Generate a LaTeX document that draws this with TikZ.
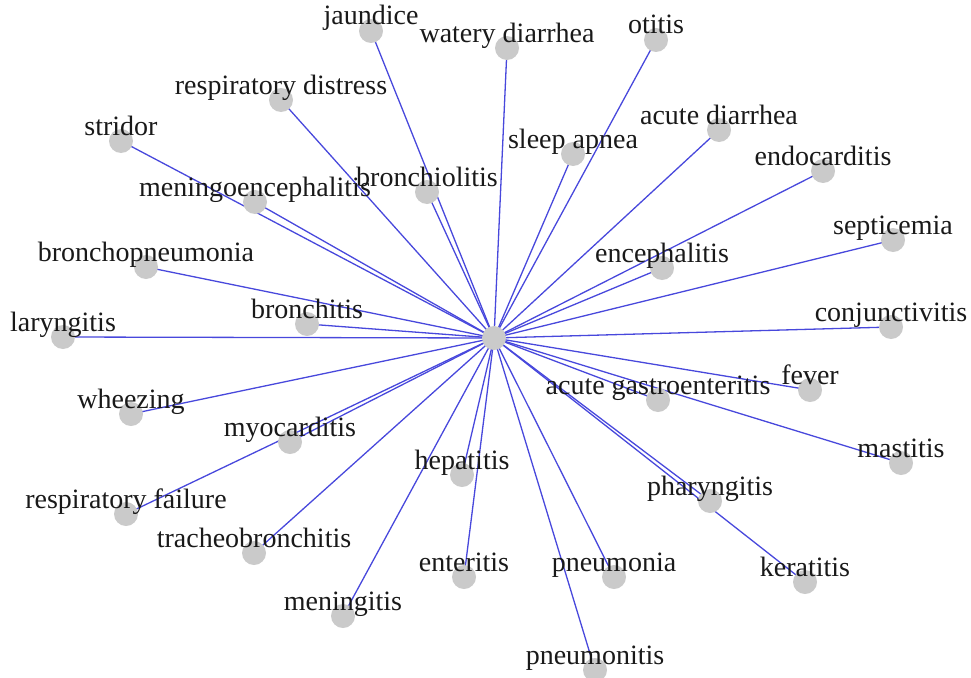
\documentclass[tikz,border=0pt]{standalone}
\usepackage{fontspec}
\setmainfont{Liberation Serif}
\usepackage{xcolor}
\usepackage{tikz}
\usetikzlibrary{backgrounds, calc}
\definecolor{edgeblue}{HTML}{4848DC}
\definecolor{vertexgray}{HTML}{CACACA}

\begin{document}
\begin{tikzpicture}[
    x=1pt, y=-1pt,
    vertex/.style={circle, fill=vertexgray, minimum size=24pt, inner sep=0pt},
    lbl/.style={anchor=base, inner sep=0pt, font=\fontsize{28}{30}\selectfont, text=black!90},
    edge/.style={edgeblue, line width=1.3pt}
]
\useasboundingbox (0,0) rectangle (971,677);

% hub
\node[vertex] at (494,338) (hub) {};

% upper half
\node[vertex] at (371,31) (jaundice) {};
\node[vertex] at (507,48) (watery-diarrhea) {};
\node[vertex] at (656,40) (otitis) {};
\node[vertex] at (281,100) (resp-distress) {};
\node[vertex] at (121,141) (stridor) {};
\node[vertex] at (719,130) (acute-diarrhea) {};
\node[vertex] at (573,154) (sleep-apnea) {};
\node[vertex] at (823,171) (endocarditis) {};
\node[vertex] at (427,192) (bronchiolitis) {};
\node[vertex] at (255,202) (meningoenc) {};
\node[vertex] at (893,240) (septicemia) {};
\node[vertex] at (146,267) (bronchopneumonia) {};
\node[vertex] at (662,268) (encephalitis) {};
\node[vertex] at (307,324) (bronchitis) {};
\node[vertex] at (891,327) (conjunctivitis) {};
\node[vertex] at (63,337) (laryngitis) {};

% lower half
\node[vertex] at (810,390) (fever) {};
\node[vertex] at (658,400) (acute-gastro) {};
\node[vertex] at (131,414) (wheezing) {};
\node[vertex] at (290,442) (myocarditis) {};
\node[vertex] at (901,463) (mastitis) {};
\node[vertex] at (462,475) (hepatitis) {};
\node[vertex] at (710,501) (pharyngitis) {};
\node[vertex] at (126,514) (resp-failure) {};
\node[vertex] at (254,553) (tracheobronchitis) {};
\node[vertex] at (464,577) (enteritis) {};
\node[vertex] at (614,577) (pneumonia) {};
\node[vertex] at (805,582) (keratitis) {};
\node[vertex] at (343,616) (meningitis) {};
\node[vertex] at (595,670) (pneumonitis) {};

% edges, behind the vertices
\begin{scope}[on background layer]
\draw[edge] (hub.center) -- (jaundice.center);
\draw[edge] (hub.center) -- (watery-diarrhea.center);
\draw[edge] (hub.center) -- (otitis.center);
\draw[edge] (hub.center) -- (resp-distress.center);
\draw[edge] (hub.center) -- (stridor.center);
\draw[edge] (hub.center) -- (acute-diarrhea.center);
\draw[edge] (hub.center) -- (sleep-apnea.center);
\draw[edge] (hub.center) -- (endocarditis.center);
\draw[edge] (hub.center) -- (bronchiolitis.center);
\draw[edge] (hub.center) -- (meningoenc.center);
\draw[edge] (hub.center) -- (septicemia.center);
\draw[edge] (hub.center) -- (bronchopneumonia.center);
\draw[edge] (hub.center) -- (encephalitis.center);
\draw[edge] (hub.center) -- (bronchitis.center);
\draw[edge] (hub.center) -- (conjunctivitis.center);
\draw[edge] (hub.center) -- (laryngitis.center);
\draw[edge] (hub.center) -- (fever.center);
\draw[edge] (hub.center) -- (acute-gastro.center);
\draw[edge] (hub.center) -- (wheezing.center);
\draw[edge] (hub.center) -- (myocarditis.center);
\draw[edge] (hub.center) -- (mastitis.center);
\draw[edge] (hub.center) -- (hepatitis.center);
\draw[edge] (hub.center) -- (pharyngitis.center);
\draw[edge] (hub.center) -- (resp-failure.center);
\draw[edge] (hub.center) -- (tracheobronchitis.center);
\draw[edge] (hub.center) -- (enteritis.center);
\draw[edge] (hub.center) -- (pneumonia.center);
\draw[edge] (hub.center) -- (keratitis.center);
\draw[edge] (hub.center) -- (meningitis.center);
\draw[edge] (hub.center) -- (pneumonitis.center);
\end{scope}

% labels, just above each vertex
\node[lbl] at ([yshift=6pt]jaundice.center) (l-jaundice) {jaundice};
\node[lbl] at ([yshift=6pt]watery-diarrhea.center) (l-watery) {watery diarrhea};
\node[lbl] at ([yshift=6pt]otitis.center) (l-otitis) {otitis};
\node[lbl] at ([yshift=6pt]resp-distress.center) (l-rdist) {respiratory distress};
\node[lbl] at ([yshift=6pt]stridor.center) (l-stridor) {stridor};
\node[lbl] at ([yshift=6pt]acute-diarrhea.center) (l-adiarrhea) {acute diarrhea};
\node[lbl] at ([yshift=6pt]sleep-apnea.center) (l-apnea) {sleep apnea};
\node[lbl] at ([yshift=6pt]endocarditis.center) (l-endo) {endocarditis};
\node[lbl] at ([yshift=6pt]bronchiolitis.center) (l-bronchiol) {bronchiolitis};
\node[lbl] at ([yshift=6pt]meningoenc.center) (l-meningoenc) {meningoencephalitis};
\node[lbl] at ([yshift=6pt]septicemia.center) (l-septic) {septicemia};
\node[lbl] at ([yshift=6pt]bronchopneumonia.center) (l-bpneu) {bronchopneumonia};
\node[lbl] at ([yshift=6pt]encephalitis.center) (l-enceph) {encephalitis};
\node[lbl] at ([yshift=6pt]bronchitis.center) (l-bronchitis) {bronchitis};
\node[lbl] at ([yshift=6pt]conjunctivitis.center) (l-conj) {conjunctivitis};
\node[lbl] at ([yshift=6pt]laryngitis.center) (l-laryng) {laryngitis};
\node[lbl] at ([yshift=6pt]fever.center) (l-fever) {fever};
\node[lbl] at ([yshift=6pt]acute-gastro.center) (l-agastro) {acute gastroenteritis};
\node[lbl] at ([yshift=6pt]wheezing.center) (l-wheez) {wheezing};
\node[lbl] at ([yshift=6pt]myocarditis.center) (l-myo) {myocarditis};
\node[lbl] at ([yshift=6pt]mastitis.center) (l-mast) {mastitis};
\node[lbl] at ([yshift=6pt]hepatitis.center) (l-hep) {hepatitis};
\node[lbl] at ([yshift=6pt]pharyngitis.center) (l-pharyng) {pharyngitis};
\node[lbl] at ([yshift=6pt]resp-failure.center) (l-rfail) {respiratory failure};
\node[lbl] at ([yshift=6pt]tracheobronchitis.center) (l-tracheo) {tracheobronchitis};
\node[lbl] at ([yshift=6pt]enteritis.center) (l-enter) {enteritis};
\node[lbl] at ([yshift=6pt]pneumonia.center) (l-pneumonia) {pneumonia};
\node[lbl] at ([yshift=6pt]keratitis.center) (l-kerat) {keratitis};
\node[lbl] at ([yshift=6pt]meningitis.center) (l-mening) {meningitis};
\node[lbl] at ([yshift=6pt]pneumonitis.center) (l-pneumonitis) {pneumonitis};

\end{tikzpicture}
\end{document}
